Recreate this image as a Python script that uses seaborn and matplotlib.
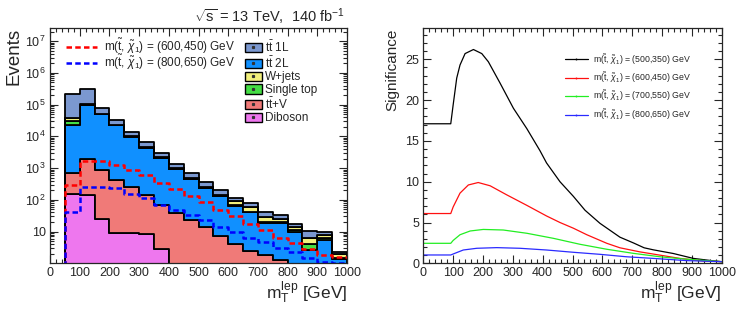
import numpy as np
import pandas as pd
import matplotlib
matplotlib.use("Agg")
import matplotlib.pyplot as plt
import seaborn as sns
from matplotlib.patches import Patch
from matplotlib.lines import Line2D
from matplotlib.ticker import MultipleLocator, LogLocator, FixedLocator, NullFormatter

# binning of m_T^lep (GeV)
edges = list(range(0, 1050, 50))
centers = [e + 25 for e in edges[:-1]]

# background yields per bin
diboson = [0, 150, 142, 25, 9.3, 9.3, 8.4, 2.8, 0, 0, 0, 0, 0, 0, 0, 0, 0, 0, 0, 0]
ttV = [0, 570, 1760, 855, 416, 241, 134, 66, 38, 23, 14, 7.4, 4.0, 2.4, 1.8, 1.3, 0, 0, 0, 0]
tt2L = [0, 22300, 96100, 49100, 21600, 9550, 4260, 2030, 910, 437, 216, 125, 62, 38, 16.5, 17, 9.5, 2.6, 5.4, 1.33]
singletop = [0, 8000, 1900, 1000, 430, 190, 85, 40, 18, 9, 7, 4, 3, 2, 1.5, 1.2, 1.7, 1.6, 1.0, 0.17]
wjets = [0, 8000, 3000, 1500, 650, 290, 130, 60, 27, 14, 15, 10, 24, 19, 8.6, 4.9, 3.1, 2.3, 1.4, 0.4]
tt1L = [0, 181000, 217000, 26500, 8900, 3700, 2080, 800, 377, 207, 108, 59, 19, 17, 14, 8.6, 2.7, 4.2, 2.1, 0.3]

# signal yields
sig_600_450 = [0, 295, 1730, 1730, 1260, 880, 610, 350, 215, 133, 84, 48, 30, 17, 11.2, 6.3, 4.5, 2.8, 1.8, 1.6]
sig_800_650 = [0, 42, 250, 255, 235, 155, 112, 69, 48, 33, 23, 14, 10, 6.4, 4.6, 3.1, 2.2, 1.5, 1.1, 1.05]

# significance vs m_T^lep cut
x_500_350 = [0, 92, 100, 112, 123, 140, 168, 196, 218, 257, 302, 347, 391, 413, 458, 503, 542, 592, 659, 704, 740, 771, 838, 905, 972, 1000]
s_500_350 = [17.1, 17.1, 19.4, 22.7, 24.3, 25.7, 26.2, 25.7, 24.7, 22.1, 19.0, 16.5, 13.8, 12.3, 10.0, 8.2, 6.5, 4.9, 3.2, 2.5, 1.9, 1.65, 1.2, 0.6, 0.3, 0.2]
x_600_450 = [0, 92, 100, 123, 151, 184, 224, 279, 347, 413, 458, 503, 548, 615, 659, 726, 793, 860, 937, 1000]
s_600_450 = [6.1, 6.1, 6.9, 8.6, 9.6, 9.9, 9.5, 8.4, 7.1, 5.8, 5.0, 4.3, 3.5, 2.45, 1.9, 1.4, 1.0, 0.6, 0.3, 0.2]
x_700_550 = [0, 92, 100, 123, 157, 201, 268, 347, 436, 525, 615, 704, 793, 882, 1000]
s_700_550 = [2.45, 2.45, 2.8, 3.5, 3.96, 4.15, 4.08, 3.68, 3.06, 2.33, 1.72, 1.22, 0.8, 0.5, 0.2]
x_800_650 = [0, 92, 100, 134, 179, 246, 324, 413, 503, 592, 681, 771, 882, 1000]
s_800_650 = [1.02, 1.02, 1.14, 1.63, 1.84, 1.92, 1.84, 1.63, 1.35, 1.10, 0.8, 0.6, 0.33, 0.2]

sns.set_style("ticks")
plt.rcParams['font.family'] = ['Liberation Sans', 'DejaVu Sans']
plt.rcParams['mathtext.fontset'] = 'custom'
plt.rcParams['mathtext.rm'] = 'Liberation Sans'
plt.rcParams['mathtext.it'] = 'Liberation Sans:italic'
plt.rcParams['mathtext.bf'] = 'Liberation Sans:bold'
plt.rcParams['axes.linewidth'] = 0.9

tt = r't$\bar{\rm t}$'
chi = r'm($\tilde{\rm t}$, $\tilde{\chi}_{1}$) = '
names = {'tt1L': tt + ' 1L', 'tt2L': tt + ' 2L', 'wjets': 'W+jets',
         'st': 'Single top', 'ttV': tt + '+V', 'diboson': 'Diboson'}
colors = {'tt1L': '#7b98d0', 'tt2L': '#1090ff', 'wjets': '#f2f07c',
          'st': '#44dd44', 'ttV': '#f07a78', 'diboson': '#ee77ee'}
bkg = {'tt1L': tt1L, 'wjets': wjets, 'st': singletop, 'tt2L': tt2L,
       'ttV': ttV, 'diboson': diboson}
# seaborn stacks the last hue level at the bottom
stack_order = ['tt1L', 'wjets', 'st', 'tt2L', 'ttV', 'diboson']

rows = []
for p in stack_order:
    for c, v in zip(centers, bkg[p]):
        rows.append((c, v, p))
df = pd.DataFrame(rows, columns=['mT', 'w', 'proc'])

fig = plt.figure(figsize=(7.47, 3.09), dpi=100)
ax1 = fig.add_axes([50 / 747, 1 - 263.3 / 309, 297 / 747, 235.3 / 309])
ax2 = fig.add_axes([423.3 / 747, 1 - 263.3 / 309, 298.4 / 747, 235 / 309])

ax1.set_yscale('log')
sns.histplot(data=df, x='mT', weights='w', hue='proc', hue_order=stack_order,
             palette=colors, bins=edges, multiple='stack', element='step',
             fill=True, alpha=1, edgecolor='black', linewidth=1.3,
             legend=False, ax=ax1)
sns.histplot(x=centers, weights=sig_600_450, bins=edges, element='step', fill=False,
             color='#ff0000', linewidth=1.8, linestyle=(0, (2.2, 1.3)), ax=ax1)
sns.histplot(x=centers, weights=sig_800_650, bins=edges, element='step', fill=False,
             color='#0000ff', linewidth=1.8, linestyle=(0, (2.2, 1.3)), ax=ax1)

ax1.set_xlim(0, 1000)
ax1.set_ylim(1, 2.6e7)
ax1.xaxis.set_major_locator(MultipleLocator(100))
ax1.xaxis.set_minor_locator(MultipleLocator(20))
ax1.yaxis.set_major_locator(FixedLocator([10, 1e2, 1e3, 1e4, 1e5, 1e6, 1e7]))
ax1.set_yticklabels(['10'] + [r'$10^{%d}$' % k for k in range(2, 8)])
ax1.yaxis.set_minor_locator(LogLocator(base=10, subs=np.arange(2, 10)))
ax1.yaxis.set_minor_formatter(NullFormatter())
ax1.set_xlabel(r'm$_{\rm T}^{\rm lep}$ [GeV]', loc='right', fontsize=12.5, labelpad=0)
ax1.set_ylabel('Events', loc='top', fontsize=13.5, labelpad=2)

l1 = ax1.legend([Line2D([], [], color='#ff0000', lw=1.8, ls=(0, (2.2, 1.3))),
                 Line2D([], [], color='#0000ff', lw=1.8, ls=(0, (2.2, 1.3)))],
                [chi + '(600,450) GeV', chi + '(800,650) GeV'],
                loc='upper left', bbox_to_anchor=(0.055, 0.963), frameon=False,
                fontsize=8.5, handlelength=2.6, handletextpad=0.6,
                labelspacing=-0.28, borderpad=0, borderaxespad=0)
ax1.add_artist(l1)
legend_order = ['tt1L', 'tt2L', 'wjets', 'st', 'ttV', 'diboson']
handles = [(Patch(facecolor=colors[p], edgecolor='black', lw=1.0),
            Line2D([], [], marker='s', ms=1.3, ls='', color='#333333'))
           for p in legend_order]
ax1.legend(handles, [names[p] for p in legend_order], loc='upper left',
           bbox_to_anchor=(0.655, 0.951), frameon=False, fontsize=8.5,
           handlelength=1.45, handleheight=0.85, handletextpad=0.3,
           labelspacing=0.05, borderpad=0, borderaxespad=0)

fig.text(345 / 747, 1 - 16.5 / 309, r'$\sqrt{\rm s}$ = 13 TeV,  140 fb$^{-1}$',
         ha='right', va='center', fontsize=10.5)

# right panel
rows2 = []
sig_curves = [('(500,350)', x_500_350, s_500_350), ('(600,450)', x_600_450, s_600_450),
              ('(700,550)', x_700_550, s_700_550), ('(800,650)', x_800_650, s_800_650)]
for lab, xs, ys in sig_curves:
    for xv, yv in zip(xs, ys):
        rows2.append((xv, yv, lab))
df2 = pd.DataFrame(rows2, columns=['x', 'sig', 'point'])
pal2 = {'(500,350)': '#000000', '(600,450)': '#ff1010',
        '(700,550)': '#22ee22', '(800,650)': '#2a2aff'}
sns.lineplot(data=df2, x='x', y='sig', hue='point', palette=pal2, sort=False,
             estimator=None, legend=False, linewidth=0.9, ax=ax2)

ax2.set_xlim(0, 1000)
ax2.set_ylim(0, 28.8)
ax2.xaxis.set_major_locator(MultipleLocator(100))
ax2.xaxis.set_minor_locator(MultipleLocator(20))
ax2.yaxis.set_major_locator(MultipleLocator(5))
ax2.yaxis.set_minor_locator(MultipleLocator(1))
ax2.set_xlabel(r'm$_{\rm T}^{\rm lep}$ [GeV]', loc='right', fontsize=12.5, labelpad=0)
ax2.set_ylabel('Significance', loc='top', fontsize=11, labelpad=4)
h2 = [Line2D([], [], color=pal2[k], lw=0.9, marker='.', ms=0.8) for k in pal2]
ax2.legend(h2, [chi + k + ' GeV' for k in pal2], loc='upper left',
           bbox_to_anchor=(0.475, 0.9), frameon=False, fontsize=6.3,
           handlelength=2.6, handletextpad=0.6, labelspacing=0.42,
           borderpad=0, borderaxespad=0)

for ax in (ax1, ax2):
    ax.tick_params(which='both', direction='in', top=True, right=True,
                   labelsize=9, width=0.8, pad=3)
    ax.tick_params(which='major', length=6)
    ax.tick_params(which='minor', length=3)

fig.savefig('out.png', dpi=100)
